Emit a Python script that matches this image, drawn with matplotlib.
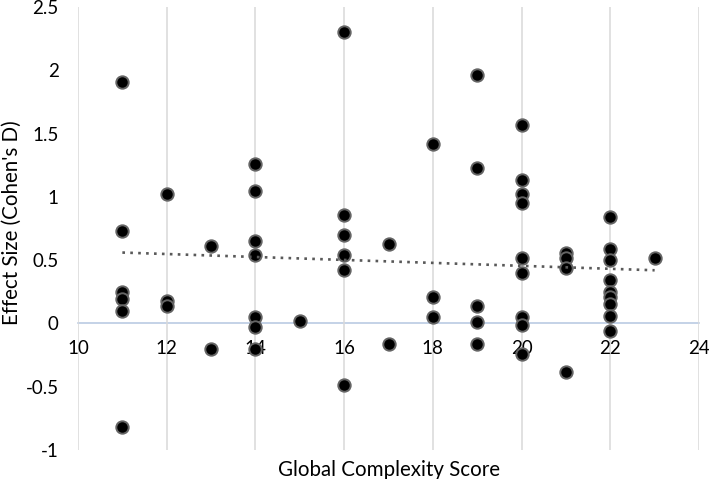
import numpy as np
import matplotlib
matplotlib.use("Agg")
import matplotlib.pyplot as plt

plt.rcParams['font.family'] = ['Lato', 'DejaVu Sans']

complexity = [11, 11, 11, 11, 11, 11,
              12, 12, 12,
              13, 13,
              14, 14, 14, 14, 14, 14, 14,
              15,
              16, 16, 16, 16, 16, 16,
              17, 17,
              18, 18, 18,
              19, 19, 19, 19, 19,
              20, 20, 20, 20, 20, 20, 20, 20, 20,
              21, 21, 21, 21,
              22, 22, 22, 22, 22, 22, 22, 22, 22,
              23]
effect_size = [1.91, 0.73, 0.25, 0.19, 0.10, -0.82,
               1.02, 0.18, 0.14,
               0.61, -0.20,
               1.26, 1.05, 0.65, 0.54, 0.05, -0.03, -0.20,
               0.02,
               2.30, 0.86, 0.70, 0.54, 0.42, -0.49,
               0.63, -0.16,
               1.42, 0.21, 0.05,
               1.96, 1.23, 0.14, 0.01, -0.16,
               1.57, 1.13, 1.02, 0.95, 0.52, 0.40, 0.05, -0.01, -0.24,
               0.56, 0.52, 0.44, -0.38,
               0.84, 0.59, 0.50, 0.34, 0.25, 0.21, 0.15, 0.06, -0.06,
               0.52]

# linear trendline as shown in the chart (end points)
trend_x = [11, 23]
trend_y = [0.56, 0.42]

x_ticks = [10, 12, 14, 16, 18, 20, 22, 24]
y_ticks = [-1, -0.5, 0, 0.5, 1, 1.5, 2, 2.5]
y_tick_labels = ['-1', '-0.5', '0', '0.5', '1', '1.5', '2', '2.5']

fig = plt.figure(figsize=(7.09, 4.79), dpi=100)
ax = fig.add_axes([78/709, 1-450/479, (699-78)/709, (450-7)/479])

ax.scatter(complexity, effect_size, s=80, facecolor='black', edgecolor='#646464',
           linewidth=1.4, zorder=3)

ax.plot(trend_x, trend_y, color='#595959', lw=1.9, linestyle=(0, (1, 2.0)), zorder=4)

ax.set_xlim(10, 24)
ax.set_ylim(-1, 2.5)
ax.set_xticks(x_ticks)
ax.set_xticklabels([str(t) for t in x_ticks])
ax.set_yticks(y_ticks)
ax.set_yticklabels(y_tick_labels)

ax.grid(axis='x', color='#d9d9d9', lw=1.1, zorder=0)
ax.grid(axis='y', visible=False)
for s in ['top', 'right', 'left']:
    ax.spines[s].set_visible(False)
ax.spines['bottom'].set_position(('data', 0))
ax.spines['bottom'].set_color('#b4c6e0')
ax.spines['bottom'].set_linewidth(1.1)
ax.spines['bottom'].set_zorder(1)
ax.tick_params(axis='both', length=0, labelsize=13.5, colors='black')
ax.tick_params(axis='x', pad=12)
ax.tick_params(axis='y', pad=14)

fig.text((78+699)/2/709, 1-476/479, 'Global Complexity Score', ha='center', va='baseline', fontsize=14.8)
fig.text(12/709, 1-223/479, "Effect Size (Cohen's D)", ha='center', va='center', rotation=90, fontsize=14.8)

fig.savefig('out.png', dpi=100)
